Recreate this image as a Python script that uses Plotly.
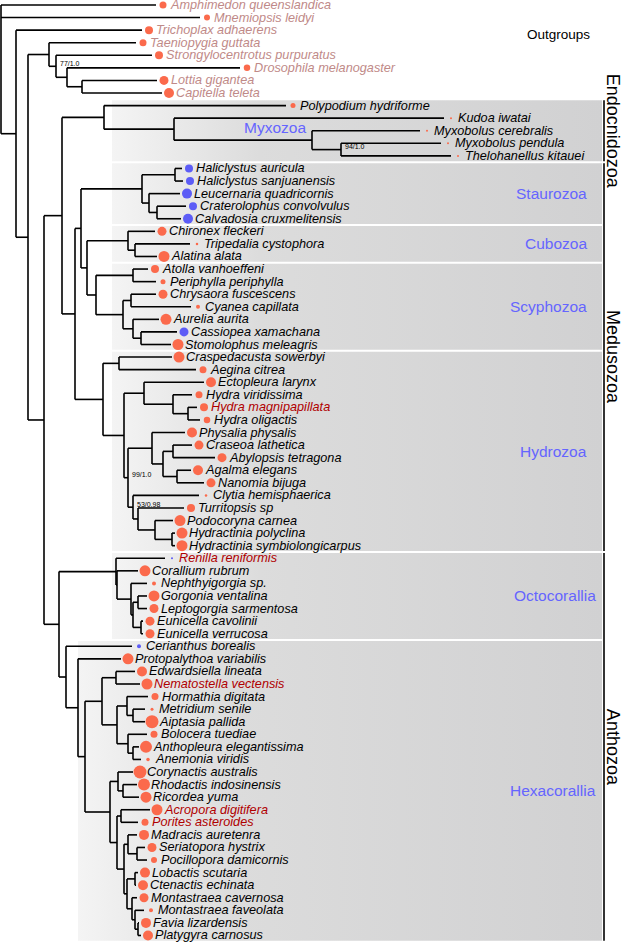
import plotly.graph_objects as go

# ---------------- data ----------------
leaf_names = [
    "Amphimedon queenslandica", "Mnemiopsis leidyi", "Trichoplax adhaerens", "Taeniopygia guttata",
    "Strongylocentrotus purpuratus", "Drosophila melanogaster", "Lottia gigantea", "Capitella teleta",
    "Polypodium hydriforme", "Kudoa iwatai", "Myxobolus cerebralis", "Myxobolus pendula",
    "Thelohanellus kitauei", "Haliclystus auricula", "Haliclystus sanjuanensis", "Leucernaria quadricornis",
    "Craterolophus convolvulus", "Calvadosia cruxmelitensis", "Chironex fleckeri", "Tripedalia cystophora",
    "Alatina alata", "Atolla vanhoeffeni", "Periphylla periphylla", "Chrysaora fuscescens",
    "Cyanea capillata", "Aurelia aurita", "Cassiopea xamachana", "Stomolophus meleagris",
    "Craspedacusta sowerbyi", "Aegina citrea", "Ectopleura larynx", "Hydra viridissima",
    "Hydra magnipapillata", "Hydra oligactis", "Physalia physalis", "Craseoa lathetica",
    "Abylopsis tetragona", "Agalma elegans", "Nanomia bijuga", "Clytia hemisphaerica",
    "Turritopsis sp", "Podocoryna carnea", "Hydractinia polyclina", "Hydractinia symbiolongicarpus",
    "Renilla reniformis", "Corallium rubrum", "Nephthyigorgia sp.", "Gorgonia ventalina",
    "Leptogorgia sarmentosa", "Eunicella cavolinii", "Eunicella verrucosa", "Cerianthus borealis",
    "Protopalythoa variabilis", "Edwardsiella lineata", "Nematostella vectensis", "Hormathia digitata",
    "Metridium senile", "Aiptasia pallida", "Bolocera tuediae", "Anthopleura elegantissima",
    "Anemonia viridis", "Corynactis australis", "Rhodactis indosinensis", "Ricordea yuma",
    "Acropora digitifera", "Porites asteroides", "Madracis auretenra", "Seriatopora hystrix",
    "Pocillopora damicornis", "Lobactis scutaria", "Ctenactis echinata", "Montastraea cavernosa",
    "Montastraea faveolata", "Favia lizardensis", "Platygyra carnosus",
]

# tip position of each leaf (dot centre, in tree-depth units)
leaf_depth = [
    163, 207, 149, 143, 159, 247, 164, 169,
    293, 451, 427, 448, 458,
    189, 190, 187, 193, 188,
    162, 197, 164,
    155, 163, 163, 198, 166, 184, 178,
    179, 203, 211, 199, 204, 207, 192, 199, 222, 198, 211, 206, 191, 180, 182, 182,
    172, 145, 154, 154, 154, 150, 150,
    139, 128, 142, 147, 155, 152, 152, 154, 146, 148, 140, 144, 146,
    157, 145, 144, 152, 154, 145, 143, 144, 151, 146, 148,
]

# dot diameter (relative abundance)
dot_size = [
    7, 6, 8, 7, 8, 6.5, 9, 10,
    5, 2, 2, 2, 2,
    8, 8, 10, 8, 10,
    9, 2.5, 11,
    8, 5, 9, 4, 11, 9, 11,
    11, 7, 10, 7, 8, 6.5, 10, 9, 9, 10, 9, 2.5, 8, 11, 11, 11,
    2, 11, 4, 11, 9, 9, 9,
    4, 11, 10, 11, 7, 3, 13, 7, 12, 3.5, 13, 12, 11,
    11, 7, 10, 9, 6, 10, 10, 9, 4, 10, 10,
]

blue_dots = [13, 14, 15, 16, 17, 26, 44, 51]
outgroup_leaves = [0, 1, 2, 3, 4, 5, 6, 7]
genome_leaves = [32, 44, 54, 64, 65]

# topology: leaves are indices, internal nodes labelled depth|support
tree_newick = (
    "(0,1,(2,((3,(4,(5,(6,7)82)67)56|77/1.0)49,"
    "(((8,(9,(10,(11,12)341|94/1.0)312)174)104,"
    "((((13,14)175,(15,(16,17)157)149)142,((18,(19,20)135)128,"
    "((21,22)133,((23,24)131,(25,(26,27)141)133)123)96)87)81,"
    "((28,29)119,((30,(31,(32,33)188)173)144,"
    "((34,((35,36)173,(37,38)177)163)152,"
    "(39,(40,(41,(42,43)172)155)138)133|53/0.98)128|99/1.0)124)103)75)62,"
    "((44,(45,(46,((47,48)138,(49,50)141)133)131)117)116,"
    "(51,(52,(((53,54)116,((55,(56,57)133)127,(58,(59,60)133)128)117)102,"
    "((61,(62,63)123)118,((64,65)121,((66,(67,68)137)128,"
    "((69,70)135,(71,(72,(73,74)138)135)132)127)124)117)110)85)78)66)59)44)28)16)1"
)

# shaded clade boxes: name, first leaf, last leaf, label
clade_names = ["Myxozoa", "Staurozoa", "Cubozoa", "Scyphozoa", "Hydrozoa", "Octocorallia", "Hexacorallia"]
clade_first = [8, 13, 18, 21, 28, 44, 51]
clade_last = [12, 17, 20, 27, 43, 50, 74]
clade_left = [112, 112, 112, 112, 112, 112, 78]

major_names = ["Endocnidozoa", "Medusozoa", "Anthozoa"]
major_first = [8, 13, 44]
major_last = [12, 43, 74]

# ---------------- layout helpers ----------------
W, H = 622, 942
Y0, DY = 5.0, 12.574
GAP = 7          # branch stops this far before the dot centre
RIGHT = 602


def parse(s):
    pos = 0

    def node():
        nonlocal pos
        if s[pos] == "(":
            pos += 1
            kids = [node()]
            while s[pos] == ",":
                pos += 1
                kids.append(node())
            pos += 1
            st = pos
            while pos < len(s) and s[pos] not in ",)":
                pos += 1
            parts = s[st:pos].split("|")
            return {"x": float(parts[0]), "sup": parts[1] if len(parts) > 1 else None, "kids": kids}
        st = pos
        while s[pos] not in ",)":
            pos += 1
        i = int(s[st:pos])
        return {"leaf": i, "x": leaf_depth[i] - GAP}

    return node()


root = parse(tree_newick)
leaf_y = [Y0 + DY * i for i in range(len(leaf_names))]

lx, ly = [], []
supports = []


def walk(n):
    if "leaf" in n:
        n["y"] = leaf_y[n["leaf"]]
        return
    for k in n["kids"]:
        walk(k)
    n["y"] = (n["kids"][0]["y"] + n["kids"][-1]["y"]) / 2
    lx.extend([n["x"], n["x"], None])
    ly.extend([n["kids"][0]["y"], n["kids"][-1]["y"], None])
    for k in n["kids"]:
        lx.extend([n["x"], k["x"], None])
        ly.extend([k["y"], k["y"], None])
    if n["sup"]:
        supports.append((n["x"], n["y"], n["sup"]))


walk(root)

fig = go.Figure()

# clade boxes with horizontal gradient
for i, nm in enumerate(clade_names):
    y1 = leaf_y[clade_first[i]] - DY / 2 + 1
    y2 = leaf_y[clade_last[i]] + DY / 2 - 1
    x1 = clade_left[i]
    fig.add_trace(go.Scatter(
        x=[x1, RIGHT, RIGHT, x1, x1], y=[y1, y1, y2, y2, y1],
        mode="lines", line=dict(width=0), fill="toself",
        fillgradient=dict(type="horizontal", start=x1, stop=RIGHT,
                          colorscale=[[0, "#f4f4f4"], [0.3, "#dcdcdc"], [1, "#d1d1d2"]]),
        hoverinfo="skip", showlegend=False))

# branches
fig.add_trace(go.Scatter(x=lx, y=ly, mode="lines", line=dict(color="black", width=1.6),
                         hoverinfo="skip", showlegend=False))

# dots
dot_col = ["#5c5cf6" if i in blue_dots else "#fb6a4c" for i in range(len(leaf_names))]
fig.add_trace(go.Scatter(x=leaf_depth, y=leaf_y, mode="markers",
                         marker=dict(size=dot_size, color=dot_col, opacity=1, line=dict(width=0)),
                         hoverinfo="skip", showlegend=False))

ann = []
FONT = "Liberation Sans, Arial, Helvetica, sans-serif"
for i, nm in enumerate(leaf_names):
    if i in outgroup_leaves:
        col = "#bf8a88"
    elif i in genome_leaves:
        col = "#b00000"
    else:
        col = "black"
    ann.append(dict(x=leaf_depth[i] + 5, y=leaf_y[i], text=nm, showarrow=False,
                    xanchor="left", yanchor="middle",
                    font=dict(family=FONT, size=12.7, color=col, style="italic")))

for (x, y, s) in supports:
    ann.append(dict(x=x + 2, y=y - 3, text=s, showarrow=False, xanchor="left", yanchor="middle",
                    font=dict(family=FONT, size=7, color="black")))

# clade labels
for i, nm in enumerate(clade_names):
    yc = (leaf_y[clade_first[i]] + leaf_y[clade_last[i]]) / 2
    if nm == "Myxozoa":
        ann.append(dict(x=242, y=127, text=nm, showarrow=False, xanchor="left", yanchor="middle",
                        font=dict(family=FONT, size=15.5, color="#6565ff")))
    else:
        xr = 598 if i >= 5 else 589
        ann.append(dict(x=xr, y=yc, text=nm, showarrow=False, xanchor="right", yanchor="middle",
                        font=dict(family=FONT, size=15.5, color="#6565ff")))

# major groups
shapes = []
for i, nm in enumerate(major_names):
    y1 = leaf_y[major_first[i]] - DY / 2 + 1
    y2 = leaf_y[major_last[i]] + DY / 2 - 1
    shapes.append(dict(type="line", x0=604, x1=604, y0=y1, y1=y2, xref="x", yref="y",
                       line=dict(color="black", width=1.6)))
    ann.append(dict(x=613, y=(y1 + y2) / 2, text=nm, showarrow=False, textangle=90,
                    xanchor="center", yanchor="middle",
                    font=dict(family=FONT, size=18, color="black")))

ann.append(dict(x=525, y=34, text="Outgroups", showarrow=False, xanchor="left", yanchor="middle",
                font=dict(family=FONT, size=13.5, color="black")))

fig.update_layout(
    width=W, height=H, margin=dict(l=0, r=0, t=0, b=0),
    paper_bgcolor="white", plot_bgcolor="white",
    xaxis=dict(range=[0, W], visible=False, fixedrange=True),
    yaxis=dict(range=[H, 0], visible=False, fixedrange=True),
    annotations=ann, shapes=shapes, showlegend=False,
)

fig.write_html("out.html", config={"displayModeBar": False},
               post_script="document.body.style.margin='0';document.body.style.overflow='hidden';")
